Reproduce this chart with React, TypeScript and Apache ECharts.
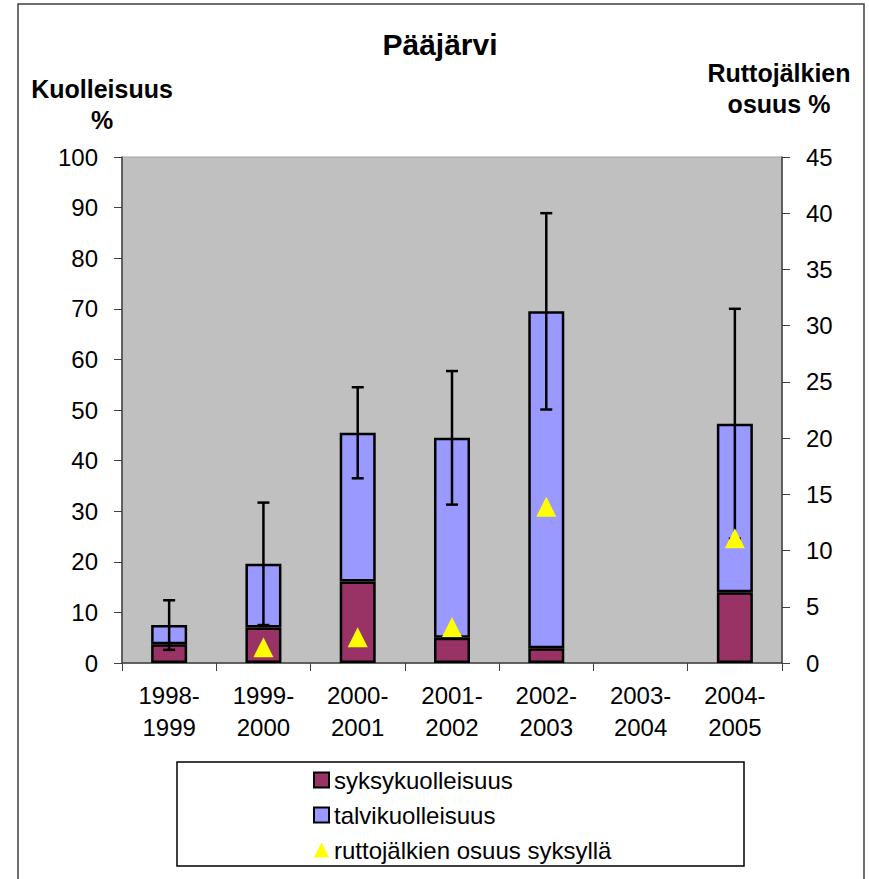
import React, { useEffect, useRef } from "react";
import * as echarts from "echarts";

const categories = ["1998-\n1999", "1999-\n2000", "2000-\n2001", "2001-\n2002", "2002-\n2003", "2003-\n2004", "2004-\n2005"];
const syksyValues: (number | null)[] = [3.7, 7.0, 16.1, 5.0, 2.9, null, 14.0];
const talviValues: (number | null)[] = [3.8, 12.6, 29.4, 39.5, 66.6, null, 33.3];
const errorValues: (number | null)[] = [4.9, 12.1, 9.0, 13.2, 19.4, null, 22.7];
const ruttoValues: (number | null)[] = [null, 1.4, 2.3, 3.2, 13.9, null, 11.1];

const FONT = "'Liberation Sans', Arial, sans-serif";

export default function App() {
  const ref = useRef<HTMLDivElement>(null);
  useEffect(() => {
    if (!ref.current) return;
    const chart = echarts.init(ref.current, undefined, { renderer: "svg" });
    const errData = categories.map((_, i) => {
      const s = syksyValues[i];
      const t = talviValues[i];
      const e = errorValues[i];
      if (s == null || t == null || e == null) return [i, null, null];
      const tot = s + t;
      return [i, tot - e, tot + e];
    });
    chart.setOption({
      animation: false,
      backgroundColor: "#ffffff",
      textStyle: { fontFamily: FONT },
      grid: {
        left: 122,
        right: 87,
        top: 157,
        bottom: 216,
        show: true,
        backgroundColor: "#C0C0C0",
        borderColor: "#a0a0a0",
        borderWidth: 1,
      },
      legend: {
        orient: "vertical",
        left: 313,
        top: 768,
        padding: 0,
        itemWidth: 15,
        itemHeight: 15,
        itemGap: 11,
        selectedMode: false,
        textStyle: { fontSize: 24, lineHeight: 24, color: "#000", fontFamily: FONT },
        data: [
          { name: "syksykuolleisuus", icon: "rect" },
          { name: "talvikuolleisuus", icon: "rect" },
          { name: "ruttojälkien osuus syksyllä", icon: "triangle" },
        ],
      },
      xAxis: {
        type: "category",
        data: categories,
        boundaryGap: true,
        axisLine: { lineStyle: { color: "#404040", width: 1.5 } },
        axisTick: { show: true, length: 8, inside: false, lineStyle: { color: "#404040" } },
        axisLabel: {
          fontSize: 24,
          lineHeight: 32,
          color: "#000",
          margin: 16,
          interval: 0,
          fontFamily: FONT,
        },
      },
      yAxis: [
        {
          type: "value",
          min: 0,
          max: 100,
          interval: 10,
          position: "left",
          splitLine: { show: false },
          axisLine: { show: true, lineStyle: { color: "#404040", width: 1.5 } },
          axisTick: { show: true, length: 8, lineStyle: { color: "#404040" } },
          axisLabel: { fontSize: 24, color: "#000", margin: 24, fontFamily: FONT },
        },
        {
          type: "value",
          min: 0,
          max: 45,
          interval: 5,
          position: "right",
          splitLine: { show: false },
          axisLine: { show: true, lineStyle: { color: "#404040", width: 1.5 } },
          axisTick: { show: true, length: 8, lineStyle: { color: "#404040" } },
          axisLabel: { fontSize: 24, color: "#000", margin: 24, fontFamily: FONT },
        },
      ],
      series: [
        {
          name: "syksykuolleisuus",
          type: "bar",
          stack: "a",
          barWidth: 36,
          data: syksyValues,
          itemStyle: { color: "#993366", borderColor: "#000", borderWidth: 2.5 },
          z: 2,
        },
        {
          name: "talvikuolleisuus",
          type: "bar",
          stack: "a",
          barWidth: 36,
          data: talviValues,
          itemStyle: { color: "#9999FF", borderColor: "#000", borderWidth: 2.5 },
          z: 2,
        },
        {
          name: "virhe",
          type: "custom",
          encode: { x: 0, y: [1, 2] },
          data: errData,
          z: 3,
          renderItem: (params: any, api: any) => {
            const lo = api.value(1);
            const hi = api.value(2);
            if (lo == null || hi == null || isNaN(lo) || isNaN(hi)) return null;
            const idx = api.value(0);
            const pLo = api.coord([idx, lo]);
            const pHi = api.coord([idx, hi]);
            const half = 6;
            const st = { stroke: "#000", lineWidth: 2.5 };
            return {
              type: "group",
              children: [
                { type: "line", shape: { x1: pLo[0], y1: pLo[1], x2: pHi[0], y2: pHi[1] }, style: st },
                { type: "line", shape: { x1: pHi[0] - half, y1: pHi[1], x2: pHi[0] + half, y2: pHi[1] }, style: st },
                { type: "line", shape: { x1: pLo[0] - half, y1: pLo[1], x2: pLo[0] + half, y2: pLo[1] }, style: st },
              ],
            };
          },
        },
        {
          name: "ruttojälkien osuus syksyllä",
          type: "scatter",
          yAxisIndex: 1,
          symbol: "triangle",
          symbolSize: 20,
          data: ruttoValues,
          itemStyle: { color: "#FFFF00", opacity: 1 },
          z: 4,
        },
      ],
      graphic: [
        {
          type: "rect",
          shape: { x: 18, y: 4, width: 846, height: 890 },
          style: { fill: "none", stroke: "#404040", lineWidth: 1.5 },
          silent: true,
        },
        {
          type: "rect",
          shape: { x: 177, y: 762, width: 567, height: 104 },
          style: { fill: "none", stroke: "#000", lineWidth: 1.5 },
          silent: true,
        },
        {
          type: "text",
          x: 440,
          y: 44,
          style: {
            text: "Pääjärvi",
            font: `bold 30px ${FONT}`,
            fill: "#000",
            align: "center",
            verticalAlign: "middle",
          },
        },
        {
          type: "text",
          x: 102,
          y: 73,
          style: {
            text: "Kuolleisuus\n%",
            font: `bold 25px ${FONT}`,
            lineHeight: 31,
            fill: "#000",
            align: "center",
            verticalAlign: "top",
          },
        },
        {
          type: "text",
          x: 779,
          y: 57,
          style: {
            text: "Ruttojälkien\nosuus %",
            font: `bold 25px ${FONT}`,
            lineHeight: 31,
            fill: "#000",
            align: "center",
            verticalAlign: "top",
          },
        },
      ],
    });
    return () => chart.dispose();
  }, []);
  return (
    <div
      ref={ref}
      style={{ position: "fixed", left: 0, top: 0, width: 869, height: 879, background: "#fff" }}
    />
  );
}
